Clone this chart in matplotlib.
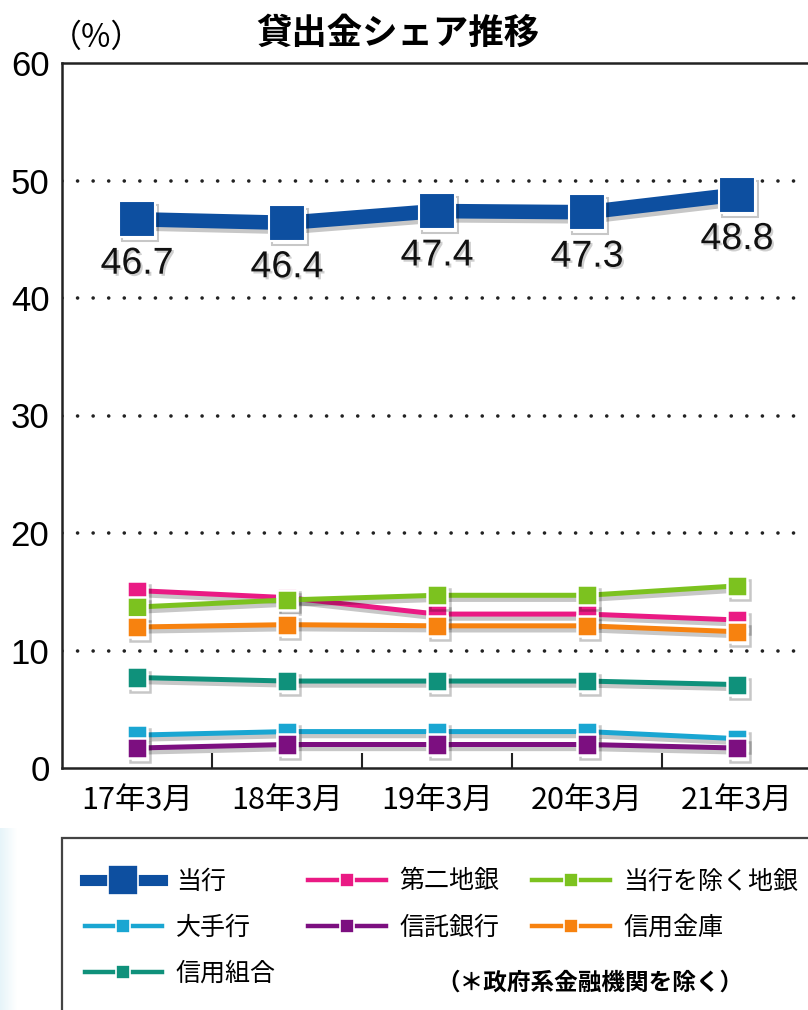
import matplotlib
matplotlib.use("Agg")
import matplotlib.pyplot as plt
import matplotlib.patheffects as pe
from matplotlib.lines import Line2D
from matplotlib.patches import Rectangle
import numpy as np

plt.rcParams['font.family'] = ['Noto Sans CJK JP', 'DejaVu Sans']

# ---- data ----
periods = ["17年3月", "18年3月", "19年3月", "20年3月", "21年3月"]
toko = [46.7, 46.4, 47.4, 47.3, 48.8]
daini_chigin = [15.1, 14.5, 13.1, 13.1, 12.6]
chigin_ex_toko = [13.7, 14.3, 14.7, 14.7, 15.5]
ote = [2.8, 3.1, 3.1, 3.1, 2.5]
shintaku = [1.7, 2.0, 2.0, 2.0, 1.7]
shinkin = [12.0, 12.2, 12.1, 12.1, 11.6]
shinkumi = [7.7, 7.4, 7.4, 7.4, 7.1]

series_names = ["当行", "第二地銀", "当行を除く地銀", "大手行", "信託銀行", "信用金庫", "信用組合"]
series_colors = ["#0d4fa0", "#ea1a84", "#7cc21f", "#1aa6d2", "#7c0f80", "#f7820f", "#0f917b"]
yticks = [0, 10, 20, 30, 40, 50, 60]

title = "貸出金シェア推移"
unit_label = "（%）"
note = "（＊政府系金融機関を除く）"

num_font = ['Liberation Sans Narrow', 'Liberation Sans', 'DejaVu Sans']

fig = plt.figure(figsize=(8.08, 10.10), dpi=100)
fig.patch.set_facecolor("white")

# faint bluish haze along the lower left edge
haze = fig.add_axes([0, 0, 0.02, 0.18])
grad = np.linspace(1, 0, 64).reshape(1, -1)
haze.imshow(grad, aspect="auto", cmap=matplotlib.colors.LinearSegmentedColormap.from_list(
    "h", ["#ffffff", "#e6f4f9"]), extent=[0, 1, 0, 1])
haze.axis("off")

ax = fig.add_axes([62 / 808, 1 - 768 / 1010, 750 / 808, (768 - 63) / 1010])
x = np.arange(len(periods))

shadow = [pe.SimpleLineShadow(offset=(2, -3), shadow_color="#000000", alpha=0.22), pe.Normal()]

others = [daini_chigin, chigin_ex_toko, ote, shintaku, shinkin, shinkumi]
for vals, color in zip(others, series_colors[1:]):
    ax.plot(x, vals, color=color, lw=3.6, marker="s", markersize=14.5,
            markerfacecolor=color, markeredgecolor="white", markeredgewidth=1.8,
            path_effects=shadow, zorder=3, clip_on=False)

ax.plot(x, toko, color=series_colors[0], lw=10.5, marker="s", markersize=26,
        markerfacecolor=series_colors[0], markeredgecolor="white", markeredgewidth=1.5,
        path_effects=shadow, zorder=4, clip_on=False)

for xi, v in zip(x, toko):
    ax.annotate(f"{v:.1f}", (xi, v), xytext=(0, -32), textcoords="offset points",
                ha="center", va="center", fontsize=27, family=num_font, color="#111111",
                path_effects=[pe.SimplePatchShadow(offset=(1.5, -1.5), shadow_rgbFace="#888888", alpha=0.4),
                              pe.Normal()], zorder=5)

ax.set_xlim(-0.5, len(periods) - 0.5)
ax.set_ylim(0, 60)
ax.set_yticks(yticks)
ax.set_yticklabels([str(t) for t in yticks], family=num_font, fontsize=25)
ax.set_xticks(x)
ax.set_xticklabels(periods, fontsize=22)
ax.set_xticks(np.arange(0.5, len(periods) - 0.5, 1.0), minor=True)
ax.tick_params(axis="y", length=0, pad=9)
ax.tick_params(axis="x", which="major", length=0, pad=12)
ax.tick_params(axis="x", which="minor", direction="in", length=11, width=1.5, color="#222222")

for yv in yticks[1:-1]:
    ax.axhline(yv, color="#222222", lw=2.6, linestyle=(0, (0.01, 4.3)),
               dash_capstyle="round", zorder=1)

for side in ["left", "top", "bottom"]:
    ax.spines[side].set_linewidth(1.8)
    ax.spines[side].set_color("#222222")
ax.spines["right"].set_visible(False)

fig.text(398 / 808, 1 - 33 / 1010, title, ha="center", va="center",
         fontsize=25.5, fontweight="bold")
fig.text(97 / 808, 1 - 38 / 1010, unit_label, ha="center", va="center", fontsize=23)

# legend frame
fig.patches.append(Rectangle((62 / 808, -0.05), 0.99, 0.05 + (1010 - 838) / 1010,
                             transform=fig.transFigure, facecolor="white",
                             edgecolor="#444444", lw=1.6, zorder=0))

handles = []
for i, (name, color) in enumerate(zip(series_names, series_colors)):
    if i == 0:
        h = Line2D([], [], color=color, lw=8, marker="s", markersize=21,
                   markerfacecolor=color, markeredgecolor="white", markeredgewidth=1.2)
    else:
        h = Line2D([], [], color=color, lw=3.2, marker="s", markersize=10,
                   markerfacecolor=color, markeredgecolor="white", markeredgewidth=1.2)
    handles.append(h)

order = [0, 3, 6, 1, 4, 2, 5]
leg = fig.legend([handles[i] for i in order], [series_names[i] for i in order],
                 ncol=3, loc="upper left", bbox_to_anchor=(72 / 808, 1 - 856 / 1010),
                 frameon=False, fontsize=18, handlelength=3.1, handletextpad=0.55,
                 columnspacing=1.3, labelspacing=0.8, borderpad=0.0)

fig.text(590 / 808, 1 - 983 / 1010, note, ha="center", va="center",
         fontsize=17, fontweight="bold")

fig.savefig("out.png", dpi=100, facecolor="white")
